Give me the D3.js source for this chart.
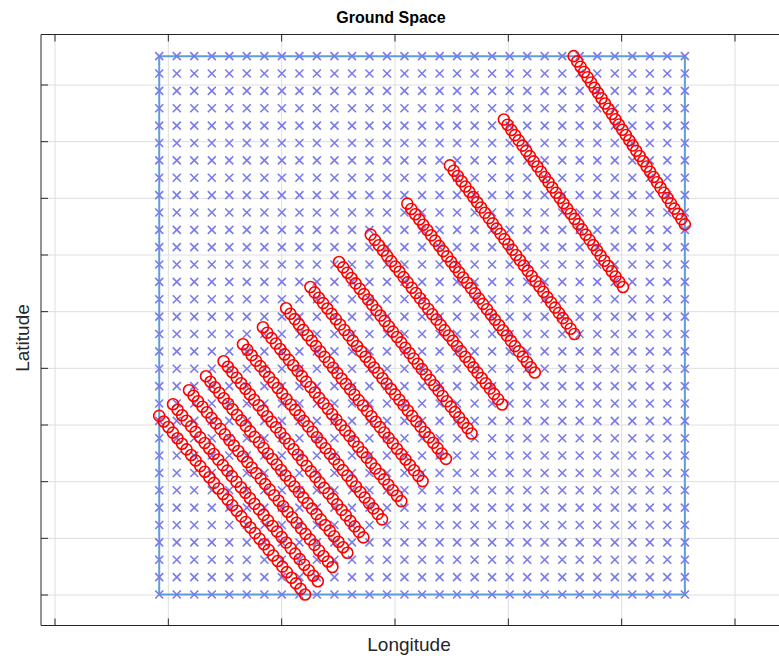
<!DOCTYPE html>
<meta charset="utf-8">
<style>
body { margin: 0; background: #fff; }
svg { display: block; font-family: "Liberation Sans", Arial, sans-serif; }
</style>
<svg width="779" height="662"></svg>
<script src="https://d3js.org/d3.v7.min.js"></script>
<script>

// tick values (labels are hidden in the original figure)
var lonTicks = [0, 1, 2, 3, 4, 5, 6];
var latTicks = [0, 1, 2, 3, 4, 5, 6, 7, 8, 9];

// ground sample grid (blue x)
var gridLon = [0.924, 1.079, 1.233, 1.388, 1.542, 1.697, 1.852, 2.006, 2.161, 2.315, 2.470,
               2.625, 2.779, 2.934, 3.088, 3.243, 3.398, 3.552, 3.707, 3.861, 4.016,
               4.171, 4.325, 4.480, 4.634, 4.789, 4.944, 5.098, 5.253, 5.407, 5.562];
var gridLat = [0, 0.306, 0.613, 0.919, 1.226, 1.532, 1.839, 2.145, 2.452, 2.758, 3.065,
               3.371, 3.677, 3.984, 4.290, 4.597, 4.903, 5.210, 5.516, 5.823, 6.129,
               6.435, 6.742, 7.048, 7.355, 7.661, 7.968, 8.274, 8.581, 8.887, 9.194, 9.500];

// region outline
var boundLon = [0.924, 5.562, 5.562, 0.924, 0.924];
var boundLat = [0, 0, 9.5, 9.5, 0];

// ground tracks (red o), from top-right to bottom-left
var trackStartLon = [4.581, 3.965, 3.489, 3.113, 2.790, 2.511, 2.258, 2.044, 1.839, 1.663, 1.492, 1.337, 1.187, 1.046, 0.924];
var trackStartLat = [9.500, 8.383, 7.572, 6.897, 6.351, 5.868, 5.427, 5.051, 4.716, 4.416, 4.116, 3.852, 3.605, 3.358, 3.152];
var trackEndLon   = [5.562, 5.016, 4.588, 4.238, 3.950, 3.680, 3.454, 3.248, 3.060, 2.890, 2.725, 2.584, 2.452, 2.323, 2.211];
var trackEndLat   = [6.532, 5.427, 4.598, 3.918, 3.353, 2.842, 2.394, 2.001, 1.648, 1.326, 1.008, 0.737, 0.485, 0.233, 0];
var trackPoints   = [33, 33, 33, 33, 33, 33, 33, 33, 33, 33, 33, 33, 33, 33, 33];

var svg = d3.select("svg");
var box = {left: 41, top: 34.5, right: 800, bottom: 625.5};

var x = d3.scaleLinear().domain([0, 6]).range([54.5, 734.5]);
var y = d3.scaleLinear().domain([0, 9]).range([594.5, 84.5]);

// grid lines
svg.append("g")
    .attr("transform", "translate(0," + box.top + ")")
    .call(d3.axisBottom(x).tickValues(lonTicks).tickSize(box.bottom - box.top).tickFormat(""))
    .call(function(g) { g.select(".domain").remove(); })
    .selectAll("line").attr("stroke", "#dedede");
svg.append("g")
    .attr("transform", "translate(" + box.left + ",0)")
    .call(d3.axisRight(y).tickValues(latTicks).tickSize(box.right - box.left).tickFormat(""))
    .call(function(g) { g.select(".domain").remove(); })
    .selectAll("line").attr("stroke", "#dedede");

// outline of the area
var outline = d3.line().x(function(d) { return x(d[0]); }).y(function(d) { return y(d[1]); });
svg.append("path")
    .datum(d3.zip(boundLon, boundLat))
    .attr("d", outline)
    .attr("fill", "none")
    .attr("stroke", "#5c9fd8")
    .attr("stroke-width", 2);

// grid samples
var cells = [];
gridLat.forEach(function(la) { gridLon.forEach(function(lo) { cells.push([lo, la]); }); });
svg.append("g").selectAll("path")
    .data(cells)
  .enter().append("path")
    .attr("transform", function(d) { return "translate(" + x(d[0]) + "," + y(d[1]) + ")"; })
    .attr("d", "M-4,-4L4,4M-4,4L4,-4")
    .attr("stroke", "#7a7aea")
    .attr("stroke-width", 1.6);

// tracks
var pts = [];
trackPoints.forEach(function(n, i) {
  for (var k = 0; k < n; k++) {
    var t = k / (n - 1);
    pts.push([trackStartLon[i] + (trackEndLon[i] - trackStartLon[i]) * t,
              trackStartLat[i] + (trackEndLat[i] - trackStartLat[i]) * t]);
  }
});
svg.append("g").selectAll("circle")
    .data(pts)
  .enter().append("circle")
    .attr("cx", function(d) { return x(d[0]); })
    .attr("cy", function(d) { return y(d[1]); })
    .attr("r", 5.5)
    .attr("fill", "none")
    .attr("stroke", "#ff0000")
    .attr("stroke-width", 1.6);

// axes box and ticks
svg.append("path")
    .attr("d", "M" + box.right + "," + box.top + "H" + box.left + "V" + box.bottom + "H" + box.right)
    .attr("fill", "none")
    .attr("stroke", "#262626")
    .attr("stroke-width", 1);
[[d3.axisBottom(x).tickValues(lonTicks), "translate(0," + box.top + ")"],
 [d3.axisTop(x).tickValues(lonTicks), "translate(0," + box.bottom + ")"],
 [d3.axisRight(y).tickValues(latTicks), "translate(" + box.left + ",0)"]].forEach(function(a) {
  svg.append("g")
      .attr("transform", a[1])
      .call(a[0].tickSize(7).tickFormat(""))
      .call(function(g) { g.select(".domain").remove(); })
      .selectAll("line").attr("stroke", "#262626");
});

// texts
svg.append("text").attr("x", 391).attr("y", 23)
    .attr("text-anchor", "middle").attr("font-weight", "bold").attr("font-size", 16)
    .attr("fill", "#000").text("Ground Space");
svg.append("text").attr("x", 409).attr("y", 651)
    .attr("text-anchor", "middle").attr("font-size", 19)
    .attr("fill", "#262626").text("Longitude");
svg.append("text").attr("transform", "translate(29,338) rotate(-90)")
    .attr("text-anchor", "middle").attr("font-size", 19)
    .attr("fill", "#262626").text("Latitude");

</script>
